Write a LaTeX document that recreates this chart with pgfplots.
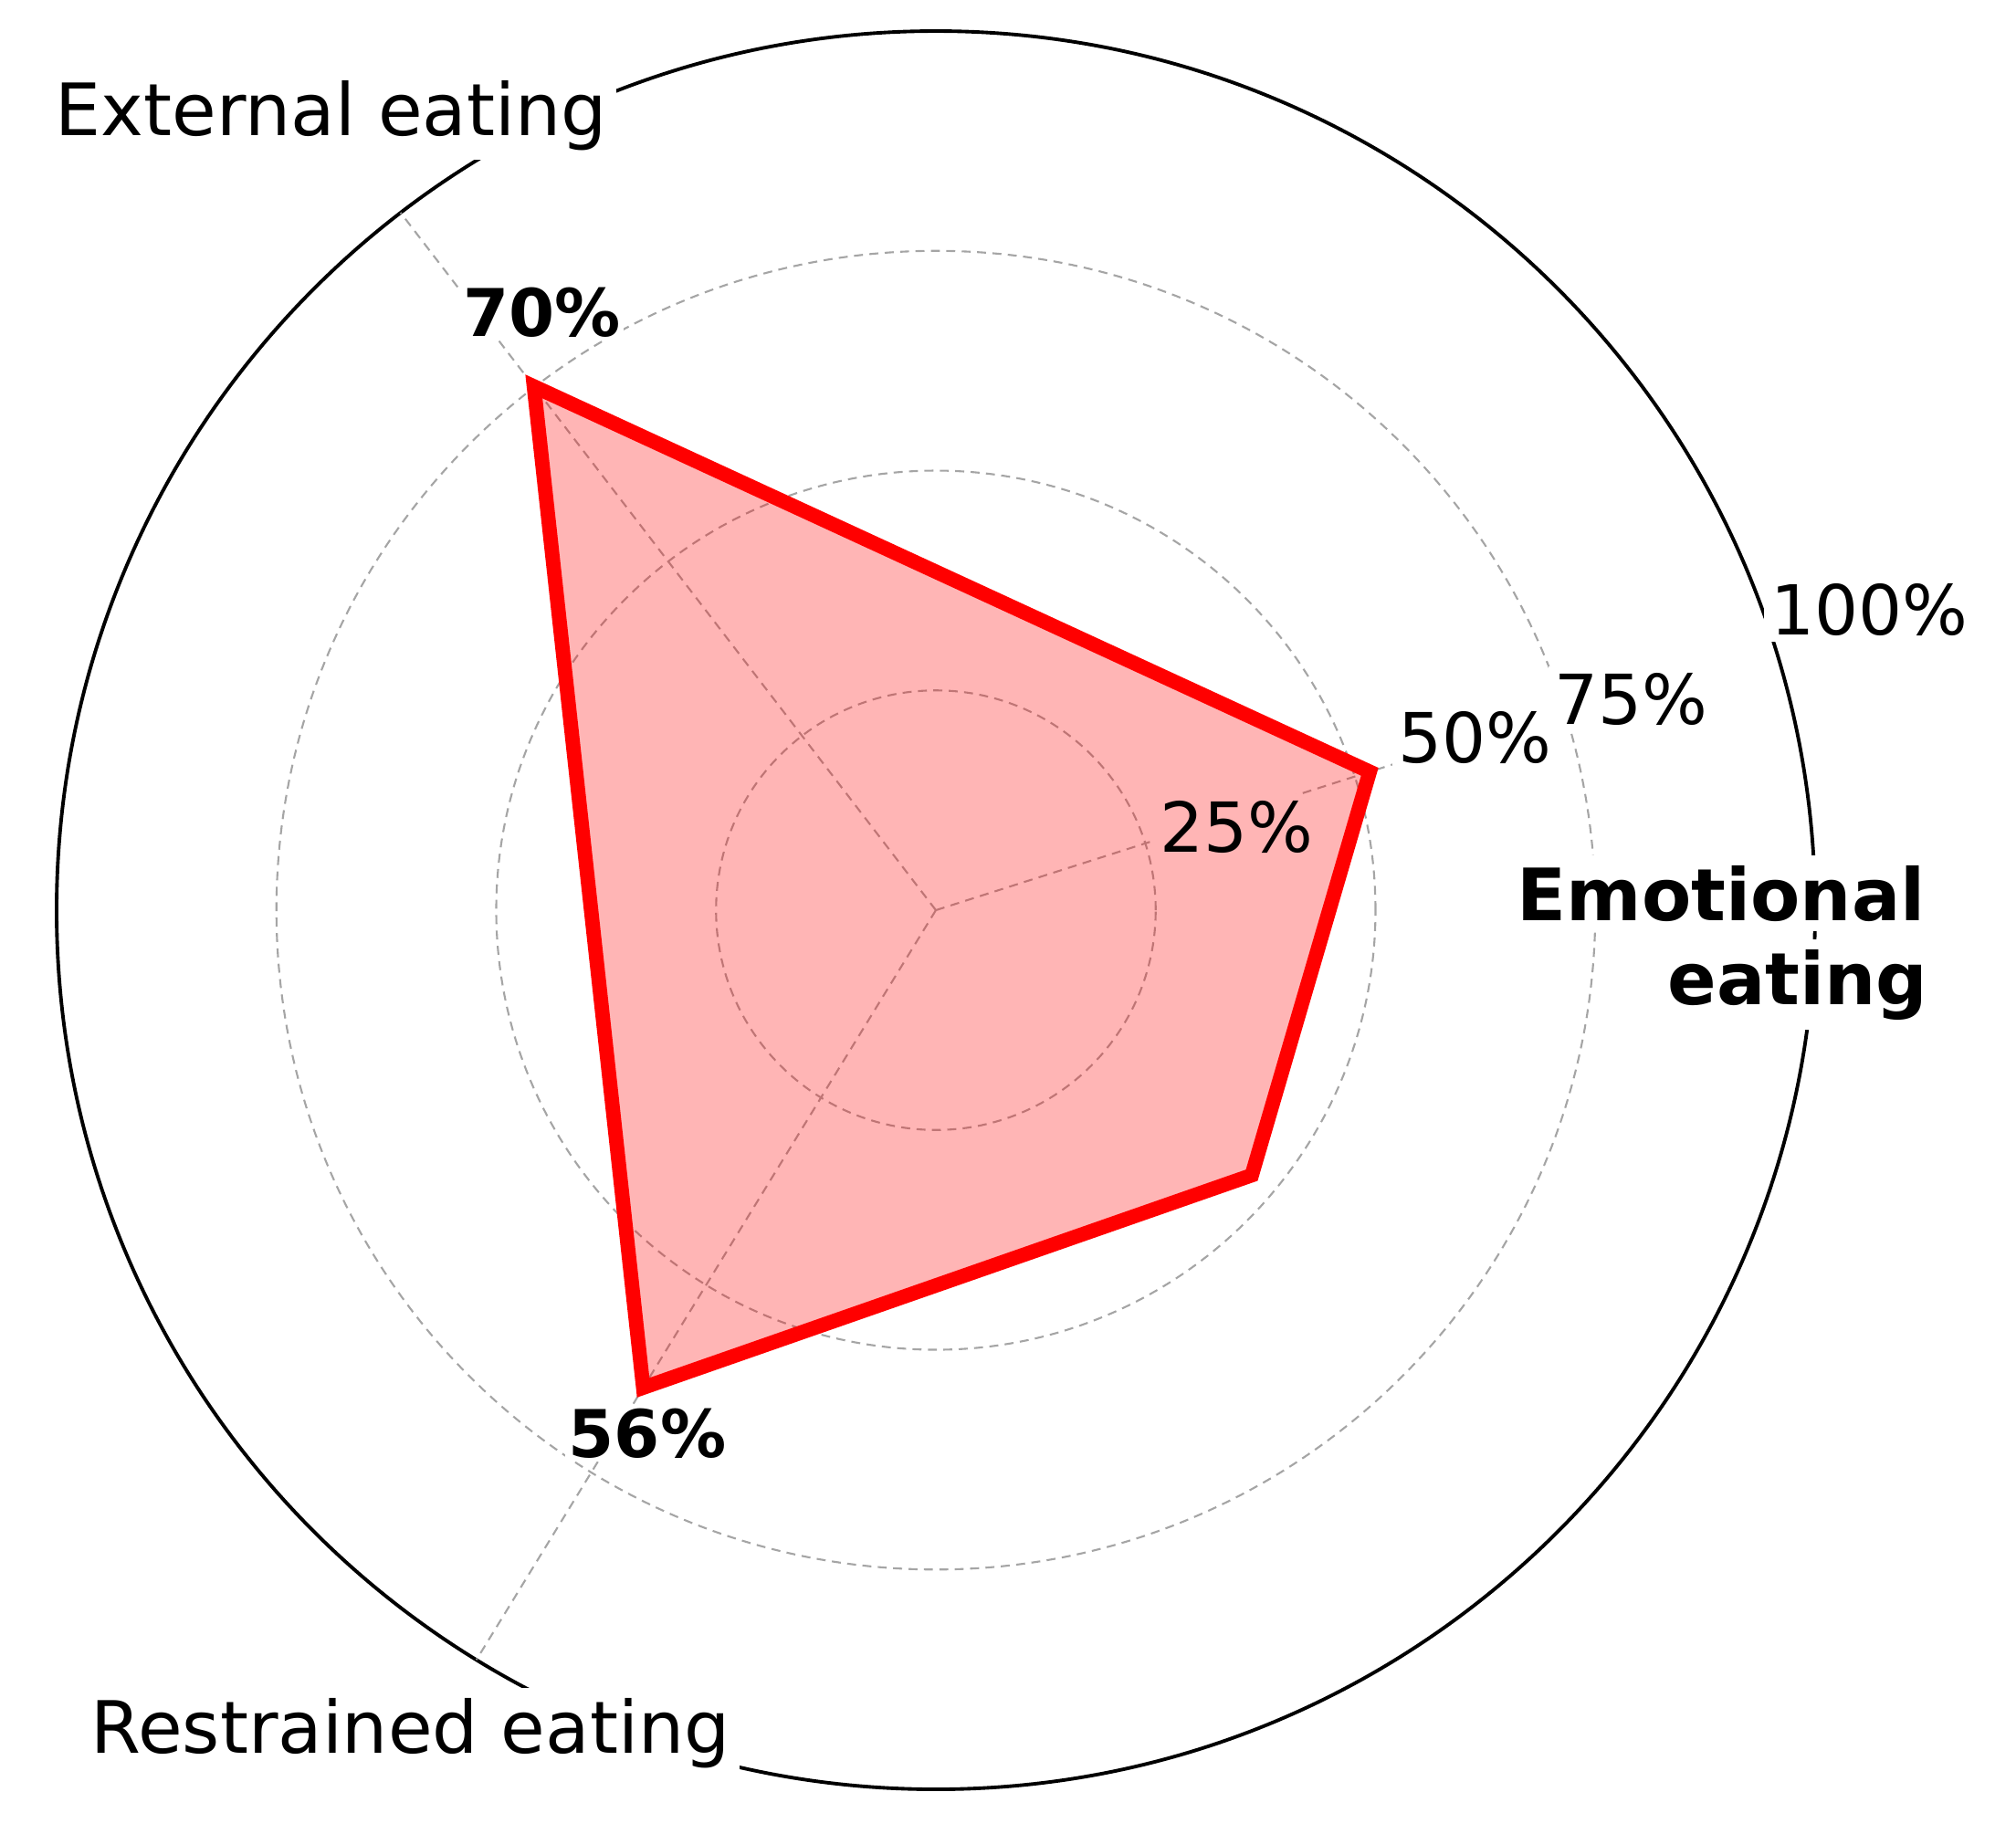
\documentclass[border=0pt]{standalone}
\usepackage{fontspec}
\setmainfont{DejaVu Sans}
\usepackage{pgfplots}
\pgfplotsset{compat=1.18}
\usepgfplotslibrary{polar}
\definecolor{gridgray}{RGB}{165,165,165}
\begin{document}
\begin{tikzpicture}
\path[use as bounding box] (0,0) rectangle (22.08cm,-20.08cm);
\begin{polaraxis}[
  at={(10.25cm,-9.97cm)}, anchor=center,
  scale only axis, width=19.26cm, height=19.26cm,
  xmin=0, xmax=360, ymin=0, ymax=100,
  xtick={17.7,127.5,238.5}, ytick={25,50,75},
  xticklabels={}, yticklabels={},
  major tick length=0pt,
  xmajorgrids=false, ymajorgrids=true,
  major grid style={draw=gridgray, line width=0.6pt, dash pattern=on 2.8pt off 2pt},
  axis line style={black, line width=1.1pt},
  y axis line style={draw=none},
  clip=false,
  spoke/.style={draw=gridgray, line width=0.6pt, dash pattern=on 2.8pt off 2pt},
]
% spokes
\addplot[spoke] coordinates {(17.7,0) (17.7,84)};
\addplot[spoke] coordinates {(127.5,0) (127.5,100)};
\addplot[spoke] coordinates {(238.5,0) (238.5,100)};
% white boxes of the ring labels (below the polygon)
\node[font=\fontsize{21.5}{26}\selectfont, fill=white, inner sep=2pt, anchor=base] at (axis cs:10.99,34.86) {\phantom{25\%}};
\node[font=\fontsize{21.5}{26}\selectfont, fill=white, inner sep=2pt, anchor=base] at (axis cs:15.33,63.6) {\phantom{50\%}};
\node[font=\fontsize{21.5}{26}\selectfont, fill=white, inner sep=2pt, anchor=base] at (axis cs:14.99,81.9) {\phantom{75\%}};
\node[font=\fontsize{21.5}{26}\selectfont, fill=white, inner sep=2pt, anchor=base] at (axis cs:16.46,110.7) {\phantom{100\%}};
% data polygon
\addplot[draw=red, line width=4.5pt, fill=red, fill opacity=0.29, line join=miter]
  coordinates {(17.7,51.8) (320,46.9) (238.5,63.7) (127.5,75.1)} -- cycle;
% ring label texts
\node[font=\fontsize{21.5}{26}\selectfont, inner sep=2pt, anchor=base] at (axis cs:10.99,34.86) {25\%};
\node[font=\fontsize{21.5}{26}\selectfont, inner sep=2pt, anchor=base] at (axis cs:15.33,63.6) {50\%};
\node[font=\fontsize{21.5}{26}\selectfont, inner sep=2pt, anchor=base] at (axis cs:14.99,81.9) {75\%};
\node[font=\fontsize{21.5}{26}\selectfont, inner sep=2pt, anchor=base] at (axis cs:16.46,110.7) {100\%};
% category labels
\node[font=\fontsize{22.5}{27}\selectfont, fill=white, inner sep=3pt, anchor=base] at (axis cs:127.96,111.8) {External eating};
\node[font=\fontsize{22.5}{27}\selectfont, fill=white, inner sep=3pt, anchor=base] at (axis cs:238.06,112.95) {Restrained eating};
\node[font=\fontsize{22.5}{27}\selectfont\bfseries, fill=white, inner sep=3pt, anchor=base east] at (axis cs:359.42,113.7) {Emotional};
\node[font=\fontsize{22.5}{27}\selectfont\bfseries, fill=white, inner sep=3pt, anchor=base east] at (axis cs:354.64,114.5) {eating};
% value labels
\node[font=\fontsize{20.5}{25}\selectfont\bfseries, fill=white, inner sep=1pt, anchor=base] at (axis cs:124.45,79.2) {70\%};
\node[font=\fontsize{20.5}{25}\selectfont\bfseries, fill=white, inner sep=1pt, anchor=base] at (axis cs:242.22,70.4) {56\%};
\end{polaraxis}
\end{tikzpicture}
\end{document}
